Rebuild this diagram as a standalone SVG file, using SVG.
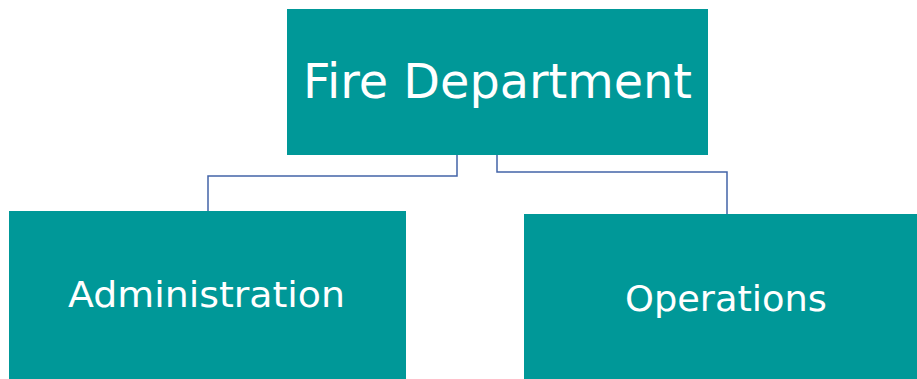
<svg xmlns="http://www.w3.org/2000/svg" width="917" height="379" viewBox="0 0 917 379">
<style>
.box{fill:#009898}
.lbl{fill:#ffffff;font-family:"DejaVu Sans","Open Sans",sans-serif;text-anchor:middle}
.conn{fill:none;stroke:#4364a8;stroke-width:1.5}
</style>
<rect width="917" height="379" fill="#ffffff"/>
<g id="connectors">
<polyline class="conn" points="457,155 457,176 208,176 208,211"/>
<polyline class="conn" points="497,155 497,172 727,172 727,214"/>
</g>
<g id="fire-department">
<rect class="box" x="287" y="9" width="421" height="146"/>
<text class="lbl" x="497.5" y="98" font-size="48" textLength="389" lengthAdjust="spacingAndGlyphs">Fire Department</text>
</g>
<g id="administration">
<rect class="box" x="9" y="211" width="397" height="168"/>
<text class="lbl" x="206.5" y="307" font-size="36" textLength="277" lengthAdjust="spacingAndGlyphs">Administration</text>
</g>
<g id="operations">
<rect class="box" x="524" y="214" width="393" height="165"/>
<text class="lbl" x="726" y="311" font-size="36" textLength="202" lengthAdjust="spacingAndGlyphs">Operations</text>
</g>
</svg>
